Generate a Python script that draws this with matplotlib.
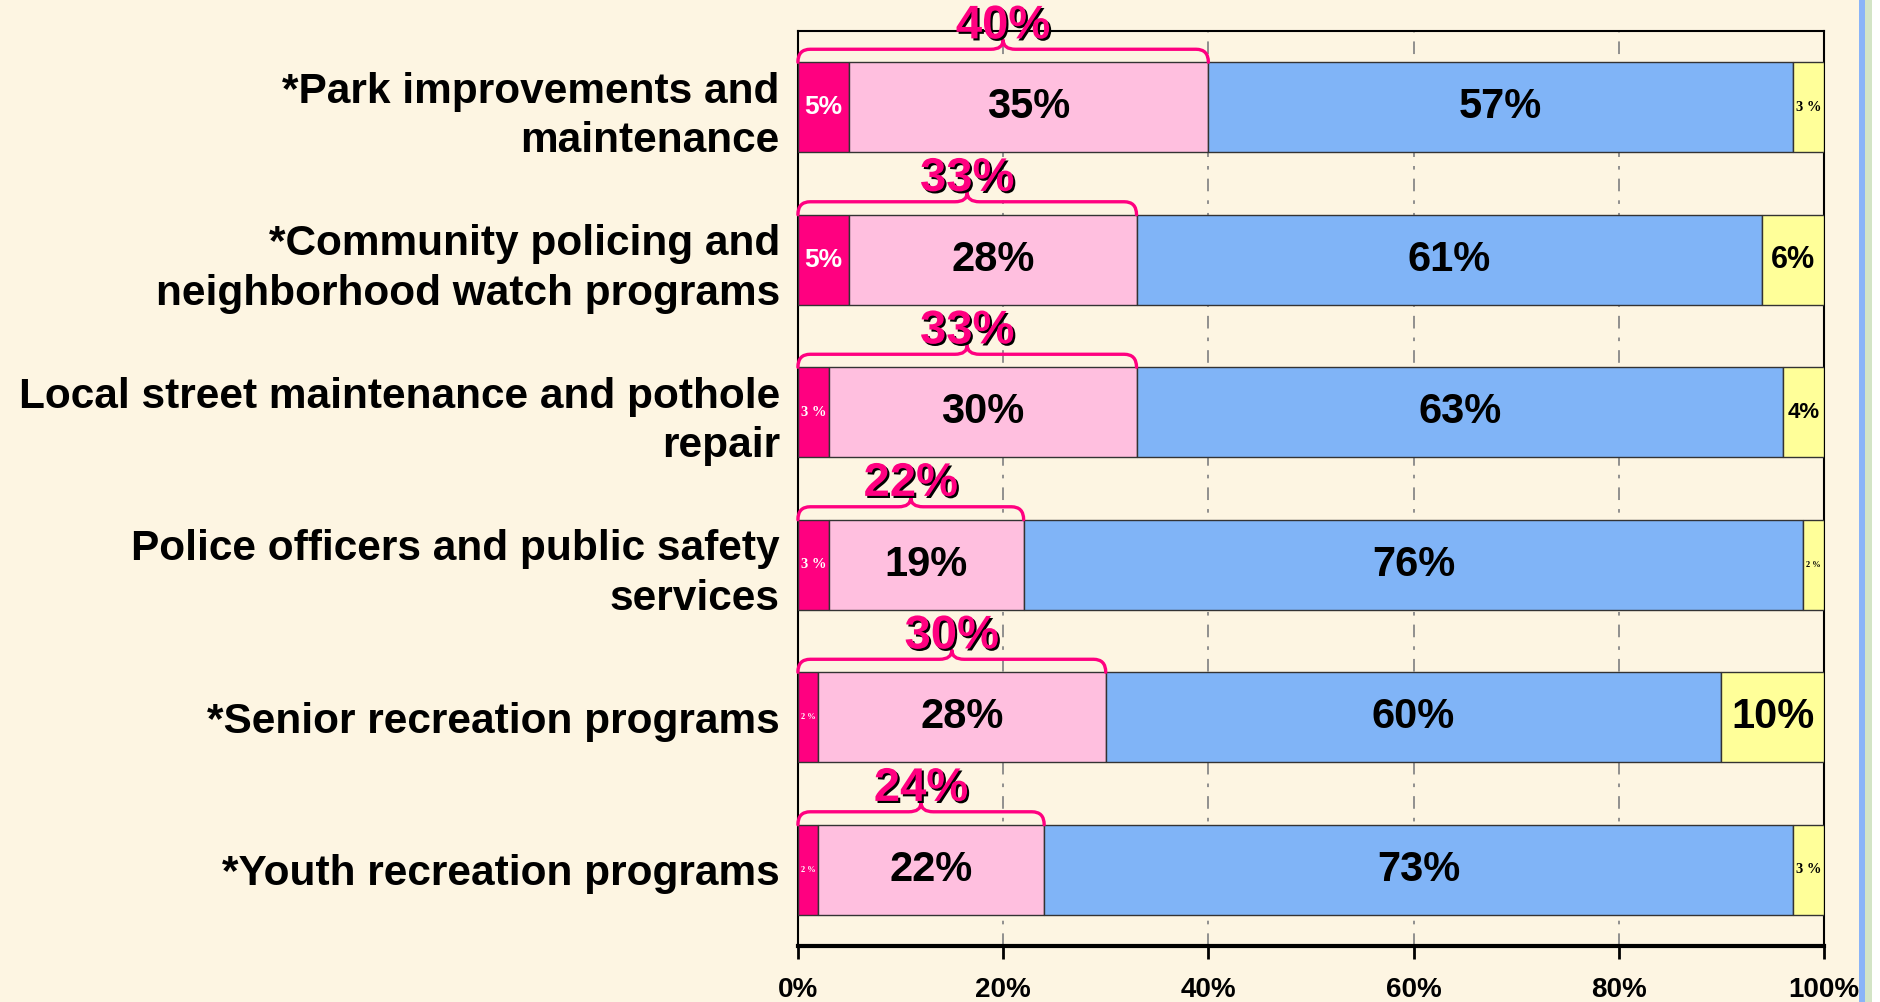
import matplotlib
matplotlib.use("Agg")
import matplotlib.pyplot as plt
import matplotlib.patheffects as pe
from matplotlib.path import Path
from matplotlib.patches import PathPatch, Rectangle

categorias = [
    "*Park improvements and\nmaintenance",
    "*Community policing and\nneighborhood watch programs",
    "Local street maintenance and pothole\nrepair",
    "Police officers and public safety\nservices",
    "*Senior recreation programs",
    "*Youth recreation programs",
]
muito_importante = [5, 5, 3, 3, 2, 2]
importante = [35, 28, 30, 19, 28, 22]
pouco_importante = [57, 61, 63, 76, 60, 73]
nao_sabe = [3, 6, 4, 2, 10, 3]
ticks_x = [0, 20, 40, 60, 80, 100]

FUNDO = "#FDF5E2"
ROSA_ESCURO = "#FF0080"
ROSA_CLARO = "#FFBFDF"
AZUL = "#80B4F7"
AMARELO = "#FFFF99"

plt.rcParams["font.family"] = ["Liberation Sans", "DejaVu Sans"]
plt.rcParams["font.weight"] = "bold"

fig = plt.figure(figsize=(18.81, 10.02), dpi=100, facecolor=FUNDO)
ax = fig.add_axes([0.4242, 0.0559, 0.5455, 0.9132])
ax.set_facecolor(FUNDO)

ALTURA = 0.59
y = list(range(len(categorias)))


def tamanho(v):
    return {2: 6, 3: 10.5, 4: 16, 5: 19, 6: 22}.get(v, 30)


def rotulo(x, yy, v, cor):
    if v <= 3:
        ax.text(x, yy, f"{v} %", ha="center", va="center", color=cor,
                fontsize=tamanho(v), family="Liberation Serif", weight="bold",
                zorder=5)
    else:
        ax.text(x, yy, f"{v}%", ha="center", va="center", color=cor,
                fontsize=tamanho(v), weight="bold", zorder=5)


def chave(x1, y0, cor):
    w = 1.2
    h1 = 0.085
    h2 = 0.06
    xm = x1 / 2
    verts = [
        (0, y0), (0, y0 - h1), (w, y0 - h1),
        (xm - w, y0 - h1), (xm, y0 - h1), (xm, y0 - h1 - h2),
        (xm, y0 - h1), (xm + w, y0 - h1),
        (x1 - w, y0 - h1), (x1, y0 - h1), (x1, y0),
    ]
    codes = [Path.MOVETO, Path.CURVE3, Path.CURVE3,
             Path.LINETO, Path.CURVE3, Path.CURVE3,
             Path.CURVE3, Path.CURVE3,
             Path.LINETO, Path.CURVE3, Path.CURVE3]
    ax.add_patch(PathPatch(Path(verts, codes), fill=False, edgecolor=cor,
                           lw=2.4, zorder=4, clip_on=False,
                           capstyle="round", joinstyle="round"))


esquerda = [0] * len(y)
for valores, cor in [(muito_importante, ROSA_ESCURO), (importante, ROSA_CLARO),
                     (pouco_importante, AZUL), (nao_sabe, AMARELO)]:
    ax.barh(y, valores, left=esquerda, height=ALTURA, color=cor,
            edgecolor="#333333", linewidth=1, zorder=3)
    for i, v in enumerate(valores):
        centro = esquerda[i] + v / 2
        if cor == ROSA_ESCURO:
            rotulo(centro, i, v, "white")
        elif cor == AMARELO:
            rotulo(centro, i, v, "black")
        else:
            ax.text(centro, i, f"{v}%", ha="center", va="center",
                    fontsize=30, weight="bold", color="black", zorder=5)
    esquerda = [a + b for a, b in zip(esquerda, valores)]

for i in y:
    total = muito_importante[i] + importante[i]
    topo = i - ALTURA / 2
    chave(total, topo, ROSA_ESCURO)
    ax.text(total / 2, i - 0.53, f"{total}%", ha="center", va="center",
            fontsize=34, weight="bold", color=ROSA_ESCURO, zorder=6,
            clip_on=False,
            path_effects=[pe.withSimplePatchShadow(offset=(1.5, -1.5),
                                                   shadow_rgbFace="black",
                                                   alpha=1)])

ax.set_xlim(0, 100)
ax.set_ylim(len(categorias) - 0.5, -0.5)
ax.set_xticks(ticks_x)
ax.set_xticklabels([f"{t}%" for t in ticks_x], fontsize=20, weight="bold")
ax.set_yticks(y)
ax.set_yticklabels(categorias, fontsize=30.5, weight="bold",
                   multialignment="right", linespacing=1.3)
ax.tick_params(axis="y", length=0, pad=13)
ax.tick_params(axis="x", length=9, width=2, direction="out", pad=13)

for t in ticks_x[1:]:
    ax.axvline(t, color="#888888", lw=1.3, ls=(0, (7, 5, 2, 5)), zorder=1)

for lado in ["left", "right", "top"]:
    ax.spines[lado].set_linewidth(1.5)
    ax.spines[lado].set_color("black")
ax.spines["bottom"].set_linewidth(3)

fig.add_artist(Rectangle((1859 / 1881, 0), 6 / 1881, 1, transform=fig.transFigure,
                         facecolor="#8AB4F8", edgecolor="none"))
fig.add_artist(Rectangle((1865 / 1881, 0), 7 / 1881, 1, transform=fig.transFigure,
                         facecolor="#D3E4C6", edgecolor="none"))
fig.add_artist(Rectangle((1872 / 1881, 0), 9 / 1881, 1, transform=fig.transFigure,
                         facecolor="white", edgecolor="none"))

fig.savefig("out.png", dpi=100, facecolor=FUNDO)
